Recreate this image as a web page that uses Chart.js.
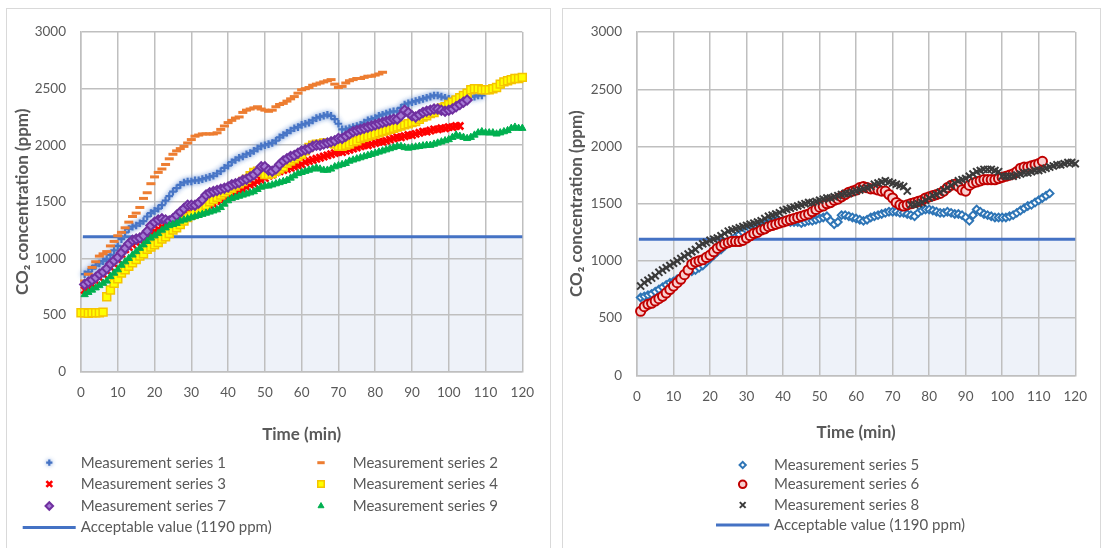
<!DOCTYPE html>
<html>
<head>
<meta charset="utf-8">
<script src="https://cdn.jsdelivr.net/npm/chart.js@4.4.1/dist/chart.umd.min.js"></script>
<style>
  html, body { margin: 0; padding: 0; background: #fff; }
  body { width: 1102px; height: 548px; position: relative; overflow: hidden; }
  .panel { position: absolute; top: 8px; height: 545px; border: 1px solid #d9d9d9; box-sizing: border-box; }
  #leftPanel { left: 6px; width: 545px; }
  #rightPanel { left: 562px; width: 539px; }
  canvas { position: absolute; left: 0; top: 0; }
</style>
</head>
<body>
<div class="panel" id="leftPanel"><canvas id="leftChart" width="543" height="539"></canvas></div>
<div class="panel" id="rightPanel"><canvas id="rightChart" width="537" height="539"></canvas></div>
<script>
// DATA (ppm, one reading per minute, first reading at the "start" minute)
const acceptableValue = 1190;
const acceptableRange = [0.5, 120];
const xTicks = { min: 0, max: 120, step: 10 };
const yTicks = { min: 0, max: 3000, step: 500 };

const series1Start = 1;
const series1 = [860,880,910,935,955,975,995,1030,1070,1110,
  1170,1230,1260,1280,1290,1310,1330,1370,1400,1420,
  1440,1470,1510,1550,1590,1620,1650,1670,1680,1680,
  1690,1690,1700,1710,1720,1730,1750,1770,1800,1820,
  1850,1870,1890,1900,1920,1930,1950,1970,1990,2000,
  2010,2020,2040,2070,2090,2110,2130,2150,2160,2180,
  2190,2200,2220,2240,2250,2260,2270,2260,2230,2190,
  2140,2140,2150,2160,2170,2180,2200,2220,2230,2240,
  2260,2270,2280,2290,2300,2300,2330,2360,2370,2380,
  2390,2400,2410,2420,2430,2440,2440,2430,2420,2410,
  2400,2390,2400,2410,2420,2430,2430,2440,2440];

const series2Start = 1;
const series2 = [800,860,920,970,1020,1040,1060,1110,1150,1200,
  1230,1270,1320,1370,1400,1450,1530,1580,1660,1720,
  1760,1790,1830,1880,1920,1950,1970,1990,2020,2050,
  2080,2090,2100,2100,2100,2100,2110,2140,2170,2200,
  2220,2240,2250,2290,2310,2320,2330,2340,2320,2310,
  2300,2310,2340,2360,2370,2390,2410,2430,2460,2490,
  2500,2510,2530,2540,2550,2560,2570,2580,2540,2510,
  2520,2550,2570,2580,2590,2590,2600,2610,2610,2620,
  2630,2645];

const series3Start = 1;
const series3 = [720,740,770,800,830,860,890,920,950,990,
  1040,1080,1100,1120,1140,1160,1180,1200,1220,1240,
  1260,1280,1300,1320,1330,1340,1360,1370,1390,1400,
  1410,1420,1440,1450,1470,1480,1500,1510,1530,1550,
  1570,1580,1600,1610,1630,1650,1660,1680,1690,1710,
  1730,1740,1760,1770,1780,1790,1800,1810,1820,1830,
  1850,1860,1870,1880,1890,1900,1910,1920,1930,1940,
  1940,1950,1960,1970,1980,1990,2000,2000,2010,2020,
  2030,2030,2040,2050,2060,2070,2070,2080,2090,2090,
  2100,2110,2120,2120,2130,2140,2140,2150,2150,2160,
  2160,2170,2170];

const series4Start = 0;
const series4 = [520,
  520,515,520,520,520,525,660,720,780,820,
  870,900,930,960,990,1020,1040,1080,1100,1120,
  1140,1170,1190,1220,1250,1270,1300,1330,1360,1380,
  1400,1420,1440,1470,1500,1520,1540,1560,1580,1600,
  1620,1640,1660,1680,1700,1730,1760,1770,1760,1740,
  1740,1750,1770,1790,1810,1840,1860,1880,1900,1920,
  1950,1980,2000,2010,2010,2020,2020,2020,2010,1990,
  1990,2000,2010,2030,2040,2060,2070,2080,2090,2100,
  2110,2120,2130,2140,2150,2160,2170,2180,2190,2200,
  2210,2230,2250,2260,2280,2290,2310,2330,2340,2360,
  2380,2400,2420,2440,2460,2490,2500,2500,2490,2490,
  2490,2500,2510,2540,2560,2570,2580,2590,2590,2600];

const series7Start = 1;
const series7 = [770,790,810,830,860,880,910,950,980,1010,
  1050,1090,1130,1160,1170,1180,1200,1240,1290,1320,
  1340,1350,1340,1330,1350,1380,1410,1440,1470,1470,
  1470,1490,1520,1560,1580,1590,1600,1610,1620,1630,
  1650,1660,1670,1690,1700,1720,1740,1770,1810,1810,
  1780,1770,1790,1830,1860,1880,1900,1910,1930,1950,
  1960,1970,1990,2000,2000,2010,2020,2030,2040,2060,
  2060,2080,2100,2120,2130,2140,2150,2160,2170,2180,
  2190,2200,2210,2220,2230,2230,2260,2310,2290,2260,
  2250,2270,2290,2300,2310,2320,2320,2310,2300,2310,
  2320,2340,2360,2380,2400];

const series9Start = 1;
const series9 = [680,700,720,740,760,780,800,840,870,900,
  940,970,1000,1030,1060,1090,1120,1150,1180,1200,
  1220,1250,1270,1290,1300,1310,1330,1340,1350,1360,
  1370,1380,1390,1400,1410,1420,1430,1450,1480,1510,
  1530,1540,1550,1560,1570,1580,1590,1610,1630,1640,
  1640,1650,1660,1670,1680,1690,1710,1730,1750,1760,
  1770,1780,1790,1800,1790,1780,1780,1790,1810,1820,
  1830,1840,1860,1870,1880,1890,1900,1910,1920,1930,
  1940,1950,1960,1970,1980,1990,1990,1980,1975,1980,
  1985,1990,1995,2000,2000,2010,2020,2030,2040,2050,
  2070,2090,2080,2070,2060,2070,2090,2110,2120,2110,
  2110,2110,2100,2110,2120,2130,2150,2160,2150,2150];

const series5Start = 1;
const series5 = [680,690,700,710,730,750,770,790,810,820,
  840,860,880,900,910,920,940,960,990,1020,
  1050,1080,1100,1130,1160,1190,1210,1230,1250,1270,
  1280,1290,1300,1310,1320,1330,1340,1350,1350,1350,
  1350,1340,1340,1340,1330,1340,1350,1350,1360,1370,
  1380,1390,1350,1320,1340,1400,1400,1390,1380,1370,
  1360,1350,1360,1380,1390,1400,1410,1420,1430,1430,
  1430,1420,1420,1410,1400,1390,1420,1440,1450,1450,
  1440,1430,1420,1420,1430,1420,1410,1410,1400,1380,
  1350,1400,1450,1430,1410,1400,1390,1380,1380,1380,
  1380,1390,1400,1420,1440,1460,1480,1490,1510,1530,
  1550,1570,1590];

const series6Start = 1;
const series6 = [560,600,620,630,650,670,690,720,750,780,
  810,840,880,920,970,990,1000,1010,1030,1050,
  1080,1110,1130,1150,1160,1170,1170,1170,1180,1200,
  1220,1240,1250,1270,1280,1300,1310,1320,1330,1340,
  1350,1360,1370,1380,1390,1400,1410,1430,1450,1470,
  1480,1500,1510,1530,1540,1560,1580,1600,1610,1620,
  1640,1650,1640,1630,1630,1620,1610,1610,1580,1550,
  1510,1490,1480,1490,1500,1510,1520,1530,1550,1560,
  1570,1580,1590,1610,1640,1660,1670,1650,1620,1610,
  1660,1680,1690,1700,1710,1710,1710,1710,1720,1730,
  1740,1750,1760,1780,1810,1820,1820,1830,1840,1850,
  1870];

const series8Start = 1;
const series8 = [780,810,830,850,870,900,920,940,960,980,
  1000,1020,1040,1060,1080,1100,1130,1150,1160,1180,
  1190,1200,1220,1240,1260,1270,1280,1290,1300,1310,
  1320,1330,1340,1350,1370,1390,1400,1410,1420,1440,
  1450,1460,1470,1480,1490,1500,1510,1510,1520,1530,
  1540,1550,1550,1560,1570,1580,1590,1590,1600,1610,
  1620,1630,1640,1650,1670,1680,1690,1700,1690,1680,
  1670,1660,1650,1610,1490,1490,1500,1510,1530,1550,
  1570,1580,1600,1620,1640,1660,1680,1700,1710,1720,
  1740,1760,1780,1790,1800,1800,1800,1790,1780,1740,
  1740,1740,1740,1750,1760,1770,1770,1780,1790,1790,
  1800,1810,1820,1830,1840,1840,1850,1860,1860,1850];

// STYLE
const textColor = '#595959';
const gridColor = '#bfbfbf';
const fontFamily = 'Lato, "Open Sans", sans-serif';

function toPoints(start, values) {
  return values.map((v, i) => ({ x: start + i, y: v }));
}

function markers(label, start, values, style) {
  return Object.assign({
    label: label,
    data: toPoints(start, values),
    showLine: false,
    clip: false,
    pointHoverRadius: 0
  }, style);
}

function acceptableLine(order) {
  return {
    label: 'Acceptable value (1190 ppm)',
    data: acceptableRange.map(x => ({ x: x, y: acceptableValue })),
    showLine: true,
    borderColor: '#4472C4',
    borderWidth: 3,
    pointRadius: 0,
    fill: false,
    clip: false,
    order: order
  };
}

function acceptableArea(order) {
  return {
    label: 'area',
    data: [xTicks.min, xTicks.max].map(x => ({ x: x, y: acceptableValue })),
    showLine: true,
    borderWidth: 0,
    borderColor: 'rgba(0,0,0,0)',
    backgroundColor: '#eef2f9',
    pointRadius: 0,
    fill: 'origin',
    order: order
  };
}

// glow around the plus markers of series 1
const glowPlugin = {
  id: 'glow',
  beforeDatasetDraw(chart, args) {
    const ds = chart.data.datasets[args.index];
    if (ds.glow) {
      chart.ctx.save();
      chart.ctx.shadowColor = ds.glow;
      chart.ctx.shadowBlur = 5;
    }
  },
  afterDatasetDraw(chart, args) {
    if (chart.data.datasets[args.index].glow) chart.ctx.restore();
  }
};

// legend laid out like the spreadsheet one
const sideLegend = {
  id: 'sideLegend',
  afterDraw(chart, args, opts) {
    const ctx = chart.ctx;
    ctx.save();
    ctx.font = '15px ' + fontFamily;
    ctx.textBaseline = 'middle';
    ctx.textAlign = 'left';
    opts.items.forEach(item => {
      const ds = chart.data.datasets[item.ds];
      ctx.save();
      if (item.line) {
        ctx.strokeStyle = ds.borderColor;
        ctx.lineWidth = ds.borderWidth;
        ctx.beginPath();
        ctx.moveTo(item.line[0], item.y);
        ctx.lineTo(item.line[1], item.y);
        ctx.stroke();
      } else {
        if (ds.glow) { ctx.shadowColor = ds.glow; ctx.shadowBlur = 4; }
        ctx.fillStyle = ds.pointBackgroundColor || ds.pointBorderColor;
        ctx.strokeStyle = ds.pointBorderColor;
        ctx.lineWidth = ds.pointBorderWidth;
        Chart.helpers.drawPoint(ctx, {
          pointStyle: ds.pointStyle,
          radius: ds.pointRadius * 0.82,
          rotation: 0,
          borderWidth: ds.pointBorderWidth
        }, item.x, item.y);
      }
      ctx.restore();
      ctx.fillStyle = textColor;
      ctx.fillText(ds.label, item.tx, item.y);
    });
    ctx.restore();
  }
};

function makeScales(xTitlePad, yTitlePad) {
  const tickFont = { family: fontFamily, size: 13.5 };
  const titleFont = { family: fontFamily, size: 17, weight: 'bold' };
  return {
    x: {
      type: 'linear',
      min: xTicks.min, max: xTicks.max,
      afterFit: s => { s.height = 90; },
      ticks: { stepSize: xTicks.step, color: textColor, font: tickFont, padding: 13, maxRotation: 0, autoSkip: false,
        callback: v => String(v) },
      grid: { color: gridColor, lineWidth: 1.5, drawTicks: false },
      border: { color: gridColor, width: 1.5 },
      title: { display: true, text: 'Time (min)', color: textColor, font: titleFont,
        padding: { top: 0, bottom: xTitlePad } }
    },
    y: {
      min: yTicks.min, max: yTicks.max,
      afterFit: s => { s.width = 74; },
      ticks: { stepSize: yTicks.step, color: textColor, font: tickFont, padding: 15,
        callback: v => String(v) },
      grid: { color: gridColor, lineWidth: 1.5, drawTicks: false },
      border: { color: gridColor, width: 1.5 },
      title: { display: true, text: 'CO₂ concentration (ppm)', color: textColor, font: titleFont,
        padding: { top: yTitlePad, bottom: 0 } }
    }
  };
}

function baseOptions(padding, xTitlePad, yTitlePad, legendItems) {
  return {
    responsive: false,
    animation: false,
    events: [],
    layout: { padding: padding },
    scales: makeScales(xTitlePad, yTitlePad),
    plugins: {
      legend: { display: false },
      tooltip: { enabled: false },
      filler: { drawTime: 'beforeDraw' },
      sideLegend: { items: legendItems }
    }
  };
}

// LEFT CHART
const leftDatasets = [
  markers('Measurement series 1', series1Start, series1, {
    pointStyle: 'cross', pointRadius: 3.8, pointBorderWidth: 2.2,
    pointBorderColor: '#4472C4', pointBackgroundColor: '#4472C4', glow: 'rgba(110,150,215,0.9)', order: 6 }),
  markers('Measurement series 2', series2Start, series2, {
    pointStyle: 'line', pointRadius: 4.5, pointBorderWidth: 3,
    pointBorderColor: '#ED7D31', pointBackgroundColor: '#ED7D31', order: 5 }),
  markers('Measurement series 3', series3Start, series3, {
    pointStyle: 'crossRot', pointRadius: 5, pointBorderWidth: 2.6,
    pointBorderColor: '#FF0000', pointBackgroundColor: '#FF0000', order: 4 }),
  markers('Measurement series 4', series4Start, series4, {
    pointStyle: 'rect', pointRadius: 5.6, pointBorderWidth: 1.5,
    pointBorderColor: '#F5C400', pointBackgroundColor: '#FFFF00', order: 3 }),
  markers('Measurement series 7', series7Start, series7, {
    pointStyle: 'rectRot', pointRadius: 4.6, pointBorderWidth: 2,
    pointBorderColor: '#7030A0', pointBackgroundColor: '#A57BD4', order: 2 }),
  markers('Measurement series 9', series9Start, series9, {
    pointStyle: 'triangle', pointRadius: 4.2, pointBorderWidth: 1,
    pointBorderColor: '#00B050', pointBackgroundColor: '#00B050', order: 1 }),
  acceptableLine(7),
  acceptableArea(8)
];

new Chart(document.getElementById('leftChart'), {
  type: 'scatter',
  data: { datasets: leftDatasets },
  options: baseOptions({ left: 0, right: 27.7, top: 16, bottom: 86.5 }, 16.7, 5.8, [
    { ds: 0, x: 42.3, tx: 73.7, y: 453.7 },
    { ds: 1, x: 314, tx: 345.7, y: 453.7 },
    { ds: 2, x: 42.3, tx: 73.7, y: 475 },
    { ds: 3, x: 314, tx: 345.7, y: 475 },
    { ds: 4, x: 42.3, tx: 73.7, y: 497 },
    { ds: 5, x: 314, tx: 345.7, y: 497 },
    { ds: 6, line: [15.7, 68.7], tx: 73.7, y: 518.5 }
  ]),
  plugins: [glowPlugin, sideLegend]
});

// RIGHT CHART
const rightDatasets = [
  markers('Measurement series 5', series5Start, series5, {
    pointStyle: 'rectRot', pointRadius: 3.8, pointBorderWidth: 2,
    pointBorderColor: '#2E75B6', pointBackgroundColor: '#ffffff', order: 3 }),
  markers('Measurement series 6', series6Start, series6, {
    pointStyle: 'circle', pointRadius: 4.6, pointBorderWidth: 2,
    pointBorderColor: '#C00000', pointBackgroundColor: '#F8CFCF', order: 2 }),
  markers('Measurement series 8', series8Start, series8, {
    pointStyle: 'crossRot', pointRadius: 5, pointBorderWidth: 2,
    pointBorderColor: '#3a3a3a', pointBackgroundColor: '#3a3a3a', order: 1 }),
  acceptableLine(4),
  acceptableArea(5)
];

new Chart(document.getElementById('rightChart'), {
  type: 'scatter',
  data: { datasets: rightDatasets },
  options: baseOptions({ left: 0, right: 23, top: 18.3, bottom: 82.7 }, 22.6, 3.8, [
    { ds: 0, x: 179.7, tx: 211, y: 456 },
    { ds: 1, x: 179.7, tx: 211, y: 475.3 },
    { ds: 2, x: 179.7, tx: 211, y: 496 },
    { ds: 3, line: [153, 206.3], tx: 211, y: 516 }
  ]),
  plugins: [glowPlugin, sideLegend]
});
</script>
</body>
</html>
